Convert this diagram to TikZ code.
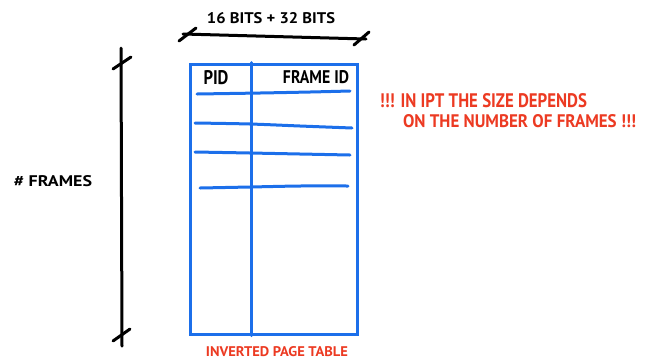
\documentclass[tikz,border=0pt]{standalone}
\usepackage{fontspec}
\setmainfont{PT Sans}
\usepackage{graphicx}
\usetikzlibrary{calc}
\definecolor{penblue}{HTML}{1C6FEA}
\definecolor{penred}{HTML}{EC3A22}
\newcommand{\hand}[3]{\resizebox{#1pt}{#2pt}{\bfseries #3}}
\begin{document}
\begin{tikzpicture}[x=1pt,y=-1pt,
  blackpen/.style={line width=3pt,line cap=round,black},
  bluepen/.style={line width=3pt,line cap=round,penblue},
  label/.style={inner sep=0pt,anchor=center},
  redlabel/.style={label,text=penred}]
\useasboundingbox (0,0) rectangle (648,360);

% width dimension
\coordinate (w1) at (183,34);
\coordinate (w2) at (366,39);
\draw[blackpen] (w1) -- (w2);
\draw[blackpen] ($(w1)+(-4,7)$) -- ($(w1)+(13,-6)$);
\draw[blackpen] ($(w2)+(-12,6)$) -- ($(w2)+(3,-7)$);
\node[label] (wlab) at (271,18) {\hand{128}{11}{16 BITS + 32 BITS}};

% height dimension
\coordinate (h1) at (121,48);
\coordinate (h2) at (122,346);
\draw[blackpen] (h1) -- (h2);
\draw[blackpen] (113,69) -- (131,57);
\draw[blackpen] (113,341) -- (130,329);
\node[label] (hlab) at (53,181) {\hand{78}{11}{\# FRAMES}};

% table frame and column divider
\node[draw=penblue,line width=3pt,minimum width=167pt,minimum height=270pt,inner sep=0pt] (tbl) at (273.5,199) {};
\draw[bluepen] (tbl.north west -| 251,0) -- (tbl.south west -| 251,0);
\node[label] (pid) at (216,78) {\hand{25}{14}{PID}};
\node[label] (fid) at (316,77) {\hand{66}{13}{FRAME ID}};

% hand-drawn row separators
\draw[bluepen] plot[smooth] coordinates {(197,94) (260,93) (310,92) (350,91)};
\draw[bluepen] plot[smooth] coordinates {(195,123) (250,124) (300,126) (352,128)};
\draw[bluepen] plot[smooth] coordinates {(195,152) (250,153) (300,154) (350,155)};
\draw[bluepen] plot[smooth] coordinates {(200,188) (250,187) (300,186) (348,186)};

% notes
\node[redlabel] (note1) at (483.5,101) {\hand{207}{14}{!!! IN IPT THE SIZE DEPENDS}};
\node[redlabel] (note2) at (519.5,121) {\hand{233}{13}{ON THE NUMBER OF FRAMES !!!}};
\node[redlabel] (cap) at (277,352) {\hand{142}{10}{INVERTED PAGE TABLE}};
\end{tikzpicture}
\end{document}
